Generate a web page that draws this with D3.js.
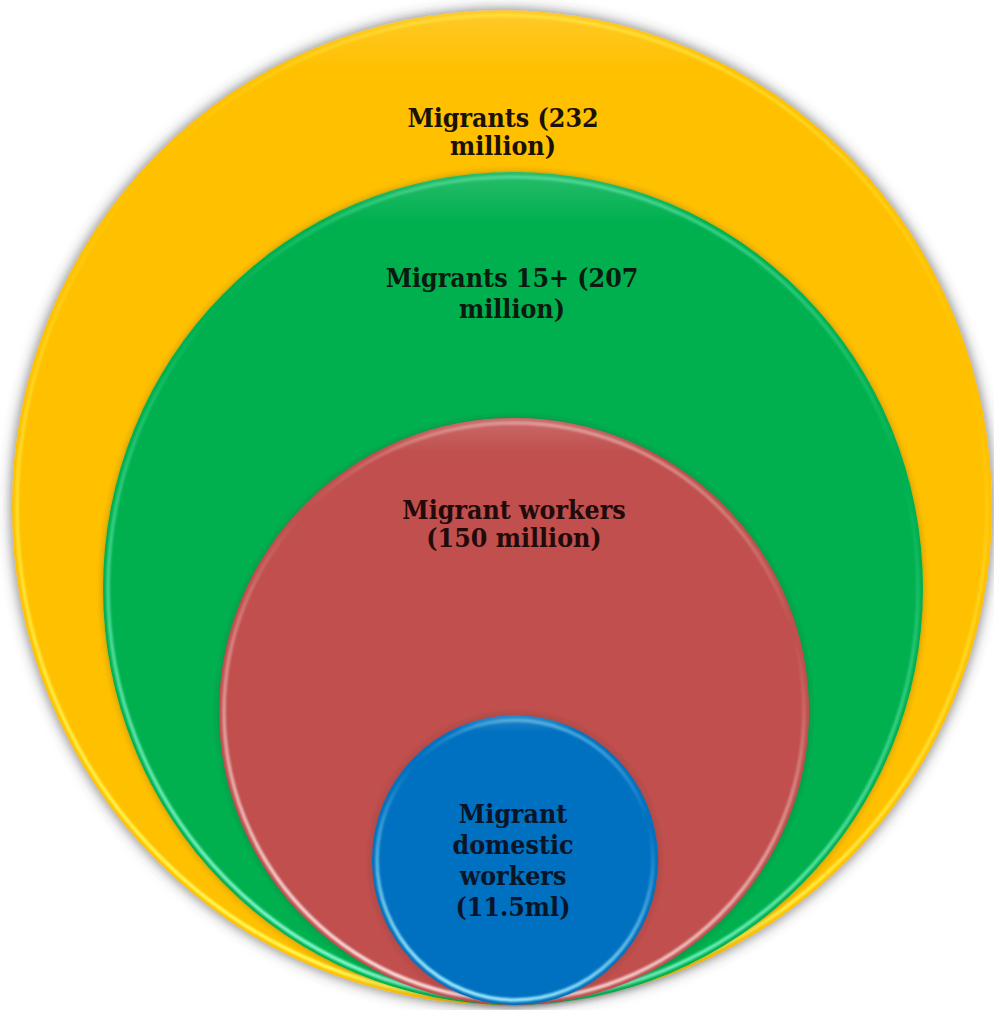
<!DOCTYPE html>
<html>
<head>
<meta charset="utf-8">
<script src="https://cdn.jsdelivr.net/npm/d3@7/dist/d3.min.js"></script>
<style>
  html, body { margin: 0; padding: 0; background: #ffffff; }
  svg { display: block; }
</style>
</head>
<body>
<svg id="chart" width="994" height="1010"></svg>
<script>
// ---- data ----
const categories = ["Migrants", "Migrants 15+", "Migrant workers", "Migrant domestic workers"];
const values = [232, 207, 150, 11.5];
const labelLines = [
  ["Migrants (232", "million)"],
  ["Migrants 15+ (207", "million)"],
  ["Migrant workers", "(150 million)"],
  ["Migrant", "domestic", "workers", "(11.5ml)"]
];

// ---- layout / style ----
const baseY = 1005;                       // all circles touch at the bottom
const levels = d3.range(categories.length);
// schematic (not area-proportional) radius per nesting level
const rScale = d3.scaleOrdinal().domain(levels).range([490, 410, 295, 143]);
const aspect = d3.scaleOrdinal().domain(levels).range([1.015, 1.016, 0.995, 1.013]);
const cxScale = d3.scaleOrdinal().domain(levels).range([502, 513, 514, 515]);
const labelX = d3.scaleOrdinal().domain(levels).range([503, 512, 514, 513]);
const labelOffset = d3.scaleOrdinal().domain(levels).range([117, 115, 101, 108]);
const lineHeight = d3.scaleOrdinal().domain(levels).range([28, 31, 28, 31]);
const fills = ["#FFC000", "#00B050", "#C0504D", "#0070C0"];
const rims = ["#FFFF60", "#8CFFD6", "#FFE8E8", "#A8F4FF"];
const textColors = ["#1a1208", "#0b1a0e", "#220a0a", "#0a1528"];

const svg = d3.select("#chart");
const defs = svg.append("defs");

const shadow = defs.append("filter").attr("id", "shadow")
  .attr("x", "-10%").attr("y", "-10%").attr("width", "120%").attr("height", "120%");
shadow.append("feDropShadow").attr("dx", 0).attr("dy", 0)
  .attr("stdDeviation", 7).attr("flood-color", "#404040").attr("flood-opacity", 0.75);

const innerShadow = defs.append("filter").attr("id", "shadowIn")
  .attr("x", "-10%").attr("y", "-10%").attr("width", "120%").attr("height", "120%");
innerShadow.append("feDropShadow").attr("dx", 0).attr("dy", 0)
  .attr("stdDeviation", 3).attr("flood-color", "#303030").attr("flood-opacity", 0.35);

const blur = defs.append("filter").attr("id", "rimBlur")
  .attr("x", "-5%").attr("y", "-5%").attr("width", "110%").attr("height", "110%");
blur.append("feGaussianBlur").attr("stdDeviation", 1);

levels.forEach(i => {
  const g = defs.append("linearGradient").attr("id", "rim" + i)
    .attr("x1", 0.6).attr("y1", 0).attr("x2", 0.35).attr("y2", 1);
  g.append("stop").attr("offset", "0%").attr("stop-color", rims[i]).attr("stop-opacity", 0.45);
  g.append("stop").attr("offset", "25%").attr("stop-color", rims[i]).attr("stop-opacity", 0);
  g.append("stop").attr("offset", "50%").attr("stop-color", rims[i]).attr("stop-opacity", 0.35);
  g.append("stop").attr("offset", "100%").attr("stop-color", rims[i]).attr("stop-opacity", 1);

  const s = defs.append("linearGradient").attr("id", "shade" + i)
    .attr("x1", 0).attr("y1", 0).attr("x2", 0).attr("y2", 1);
  s.append("stop").attr("offset", "0%").attr("stop-color", "#ffffff").attr("stop-opacity", 0.16);
  s.append("stop").attr("offset", "6%").attr("stop-color", "#ffffff").attr("stop-opacity", 0);
  s.append("stop").attr("offset", "100%").attr("stop-color", "#ffffff").attr("stop-opacity", 0);
});

const nodes = levels.map(i => {
  const rx = rScale(i), ry = rx * aspect(i);
  return { i, category: categories[i], value: values[i], lines: labelLines[i],
           cx: cxScale(i), cy: baseY - ry, rx, ry };
});

const groups = svg.selectAll("g.level").data(nodes).join("g").attr("class", "level");

groups.append("ellipse")
  .attr("cx", d => d.cx).attr("cy", d => d.cy)
  .attr("rx", d => d.rx).attr("ry", d => d.ry)
  .attr("fill", d => fills[d.i])
  .attr("filter", d => d.i === 0 ? "url(#shadow)" : "url(#shadowIn)");

groups.append("ellipse")
  .attr("cx", d => d.cx).attr("cy", d => d.cy)
  .attr("rx", d => d.rx).attr("ry", d => d.ry)
  .attr("fill", d => `url(#shade${d.i})`);

groups.append("ellipse")
  .attr("cx", d => d.cx).attr("cy", d => d.cy)
  .attr("rx", d => d.rx - 5).attr("ry", d => d.ry - 5)
  .attr("fill", "none")
  .attr("stroke", d => `url(#rim${d.i})`)
  .attr("stroke-width", 3.5)
  .attr("filter", "url(#rimBlur)");

groups.append("text")
  .attr("text-anchor", "middle")
  .attr("font-family", "'DejaVu Serif Condensed', 'DejaVu Serif', serif")
  .attr("font-stretch", "condensed")
  .attr("font-weight", "bold")
  .attr("font-size", 26.5)
  .attr("fill", d => textColors[d.i])
  .each(function(d) {
    const t = d3.select(this);
    d.lines.forEach((ln, k) => {
      t.append("tspan")
        .attr("x", labelX(d.i))
        .attr("y", d.cy - d.ry + labelOffset(d.i) + k * lineHeight(d.i))
        .text(ln);
    });
  });
</script>
</body>
</html>
